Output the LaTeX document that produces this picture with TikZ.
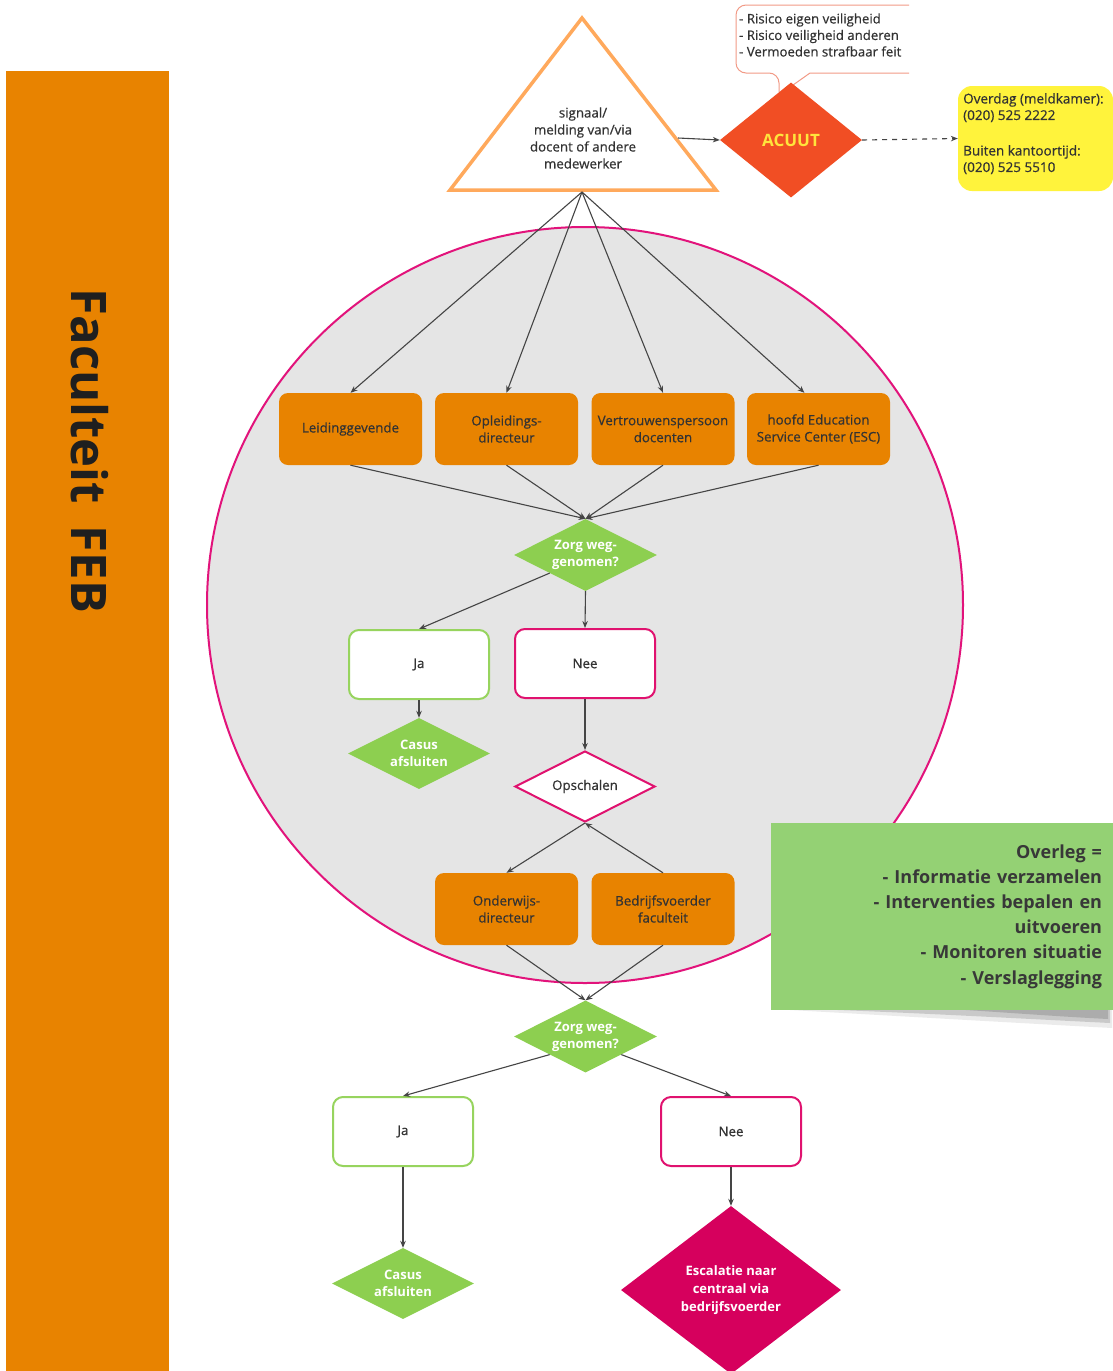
\documentclass[tikz,border=0pt]{standalone}
\usepackage{fontspec}
\setmainfont{Open Sans}
\newfontfamily\medfont{Open Sans}[FakeBold=0.6]
\usetikzlibrary{shapes.geometric,arrows.meta,calc}
\definecolor{boxorange}{HTML}{E88300}
\definecolor{triorange}{HTML}{FFA95C}
\definecolor{acuutred}{HTML}{F14E24}
\definecolor{acuuttxt}{HTML}{FFE43C}
\definecolor{yelbox}{HTML}{FFF33C}
\definecolor{calloutred}{HTML}{F29A86}
\definecolor{circfill}{HTML}{E5E5E5}
\definecolor{circmag}{HTML}{E2137B}
\definecolor{diagreen}{HTML}{8DCF50}
\definecolor{jagreen}{HTML}{97D45E}
\definecolor{neemag}{HTML}{E0126F}
\definecolor{escalmag}{HTML}{D6005D}
\definecolor{notegreen}{HTML}{94D174}
\definecolor{txtdark}{HTML}{333333}
\definecolor{linegray}{HTML}{454545}
\newcommand\smalltxt{\medfont\fontsize{13.3}{17}\selectfont}
\begin{document}
\begin{tikzpicture}[x=1pt,y=-1pt,
  conn/.style={draw=linegray,line width=1.1pt,-{Stealth[length=7pt,width=5.5pt]}},
  obox/.style={rectangle,rounded corners=9pt,fill=boxorange,minimum width=143pt,minimum height=72pt,align=center,text=txtdark,font=\smalltxt,inner sep=2pt},
  jabox/.style={rectangle,rounded corners=10pt,fill=white,draw=jagreen,line width=2pt,minimum width=140pt,minimum height=69pt,text=txtdark,font=\smalltxt},
  neebox/.style={jabox,draw=neemag},
  gdia/.style={diamond,aspect=2,fill=diagreen,minimum width=143pt,minimum height=72pt,inner sep=0pt,align=center,text=white,font=\fontsize{13}{17}\selectfont\bfseries},
]
\useasboundingbox (0,0) rectangle (1113,1371);
\fill[white] (0,0) rectangle (1113,1371);

% left bar
\node[fill=boxorange,minimum width=163pt,minimum height=1310pt,anchor=north west,inner sep=0pt] (bar) at (6,71) {};
\node[rotate=-90,font=\fontsize{49}{53}\selectfont\bfseries,text=black!88] (bartxt) at (90,451) {Faculteit\hspace{22pt}FEB};

% big circle
\node[circle,draw=circmag,fill=circfill,line width=2pt,minimum size=756pt,inner sep=0pt] (circ) at (585,605) {};

% note shadow
\fill[black,opacity=0.08] (790,1004) -- (1112,1004) -- (1112,1028) .. controls (1000,1022) and (880,1015) .. (790,1010) -- cycle;
\fill[black,opacity=0.14] (810,1006) -- (1110,1006) -- (1110,1023) .. controls (1010,1018) and (900,1012) .. (810,1009) -- cycle;
\fill[black,opacity=0.14] (950,1006) -- (1108,1006) -- (1108,1019) .. controls (1050,1016) and (1000,1012) .. (950,1009) -- cycle;
% note
\node[rectangle,fill=notegreen,minimum width=342pt,minimum height=187pt,text width=320pt,inner xsep=11pt,align=right,font=\fontsize{18}{25.2}\selectfont\bfseries,text=black!78] (note) at (942,916.5)
  {Overleg =\\- Informatie verzamelen\\- Interventies bepalen en\\uitvoeren\\- Monitoren situatie\\- Verslaglegging};

% triangle
\coordinate (tapex) at (582,18);
\coordinate (tleft) at (450,190);
\coordinate (tright) at (716,190);
\coordinate (tribot) at (582,192);
\coordinate (triright) at (678,138);
\draw[draw=triorange,fill=white,line width=3.5pt,line join=miter] (tapex) -- (tright) -- (tleft) -- cycle;
\node[align=center,font=\smalltxt,text=txtdark] (sig) at (583,138) {signaal/\\melding van/via\\docent of andere\\medewerker};

% callout
\draw[calloutred,line width=1pt] (909,73) -- (810,73) -- (786,90);
\draw[calloutred,line width=1pt,rounded corners=10pt] (779,92) -- (779,73) -- (736,73) -- (736,5) -- (909,5);
\node[anchor=west,align=left,font=\medfont\fontsize{13.2}{16.5}\selectfont,text=txtdark,inner sep=0pt] (callt) at (739,35)
  {- Risico eigen veiligheid\\- Risico veiligheid anderen\\- Vermoeden strafbaar feit};

% ACUUT
\node[diamond,aspect=1.23,fill=acuutred,minimum width=142pt,minimum height=115pt,inner sep=0pt,text=acuuttxt,font=\fontsize{17}{20}\selectfont\bfseries] (acuut) at (791,140) {ACUUT};

% yellow box
\node[rectangle,rounded corners=14pt,fill=yelbox,minimum width=155pt,minimum height=105pt,inner sep=0pt] (yel) at (1035.5,138.5) {};
\node[anchor=north west,align=left,font=\medfont\fontsize{13.5}{16.5}\selectfont,text=txtdark,inner sep=0pt] (yeltxt) at (963,93)
  {Overdag (meldkamer):\\(020) 525 2222\\[19pt]Buiten kantoortijd:\\(020) 525 5510};

\draw[conn] (triright) -- (acuut.west);
\draw[conn,dash pattern=on 5pt off 5pt] (acuut.east) -- (yel.west);

% first row boxes
\node[obox] (lead) at (350.5,429) {Leidinggevende};
\node[obox] (opl) at (506.5,429) {Opleidings-\\directeur};
\node[obox] (vert) at (663,429) {Vertrouwenspersoon\\docenten};
\node[obox] (esc) at (818.5,429) {hoofd Education\\Service Center (ESC)};

\draw[conn] (tribot) -- (lead.north);
\draw[conn] (tribot) -- (opl.north);
\draw[conn] (tribot) -- (vert.north);
\draw[conn] (tribot) -- ($(esc.north)+(-14,0)$);

% decision 1
\node[gdia] (z1) at (585.5,555) {Zorg weg-\\genomen?};
\draw[conn] (lead.south) -- (z1.north);
\draw[conn] (opl.south) -- (z1.north);
\draw[conn] (vert.south) -- (z1.north);
\draw[conn] (esc.south) -- (z1.north);

\node[jabox] (ja1) at (419,664.5) {Ja};
\node[neebox] (nee1) at (585,663.5) {Nee};
\draw[conn] ($(z1.west)!0.5!(z1.south)$) -- (ja1.north);
\draw[conn] (z1.south) -- (nee1.north);

\node[gdia,minimum width=142pt,minimum height=71pt] (cas1) at (419,753.5) {Casus\\afsluiten};
\draw[conn] (ja1.south) -- (cas1.north);

\node[diamond,aspect=2,fill=white,draw=neemag,line width=2pt,minimum width=140pt,minimum height=71pt,inner sep=0pt,font=\smalltxt,text=txtdark] (ops) at (585,786.5) {Opschalen};
\draw[conn] (nee1.south) -- (ops.north);

\node[obox] (ond) at (506.5,909) {Onderwijs-\\directeur};
\node[obox] (bed) at (663,909) {Bedrijfsvoerder\\faculteit};
\draw[conn] (ops.south) -- (ond.north);
\draw[conn] (bed.north) -- (ops.south);

% decision 2
\node[gdia] (z2) at (585.5,1036.5) {Zorg weg-\\genomen?};
\draw[conn] (ond.south) -- (z2.north);
\draw[conn] (bed.south) -- (z2.north);

\node[jabox] (ja2) at (403,1131.5) {Ja};
\node[neebox] (nee2) at (731,1131.5) {Nee};
\draw[conn] ($(z2.west)!0.5!(z2.south)$) -- (ja2.north);
\draw[conn] ($(z2.east)!0.5!(z2.south)$) -- (nee2.north);

\node[gdia,minimum width=142pt,minimum height=71pt] (cas2) at (403,1283.5) {Casus\\afsluiten};
\draw[conn] (ja2.south) -- (cas2.north);

\node[diamond,aspect=1.31,fill=escalmag,minimum width=220pt,minimum height=168pt,inner sep=0pt,align=center,text=white,font=\fontsize{13}{18}\selectfont\bfseries] (escal) at (731,1290) {Escalatie naar\\centraal via\\bedrijfsvoerder};
\draw[conn] (nee2.south) -- (escal.north);
\end{tikzpicture}
\end{document}
